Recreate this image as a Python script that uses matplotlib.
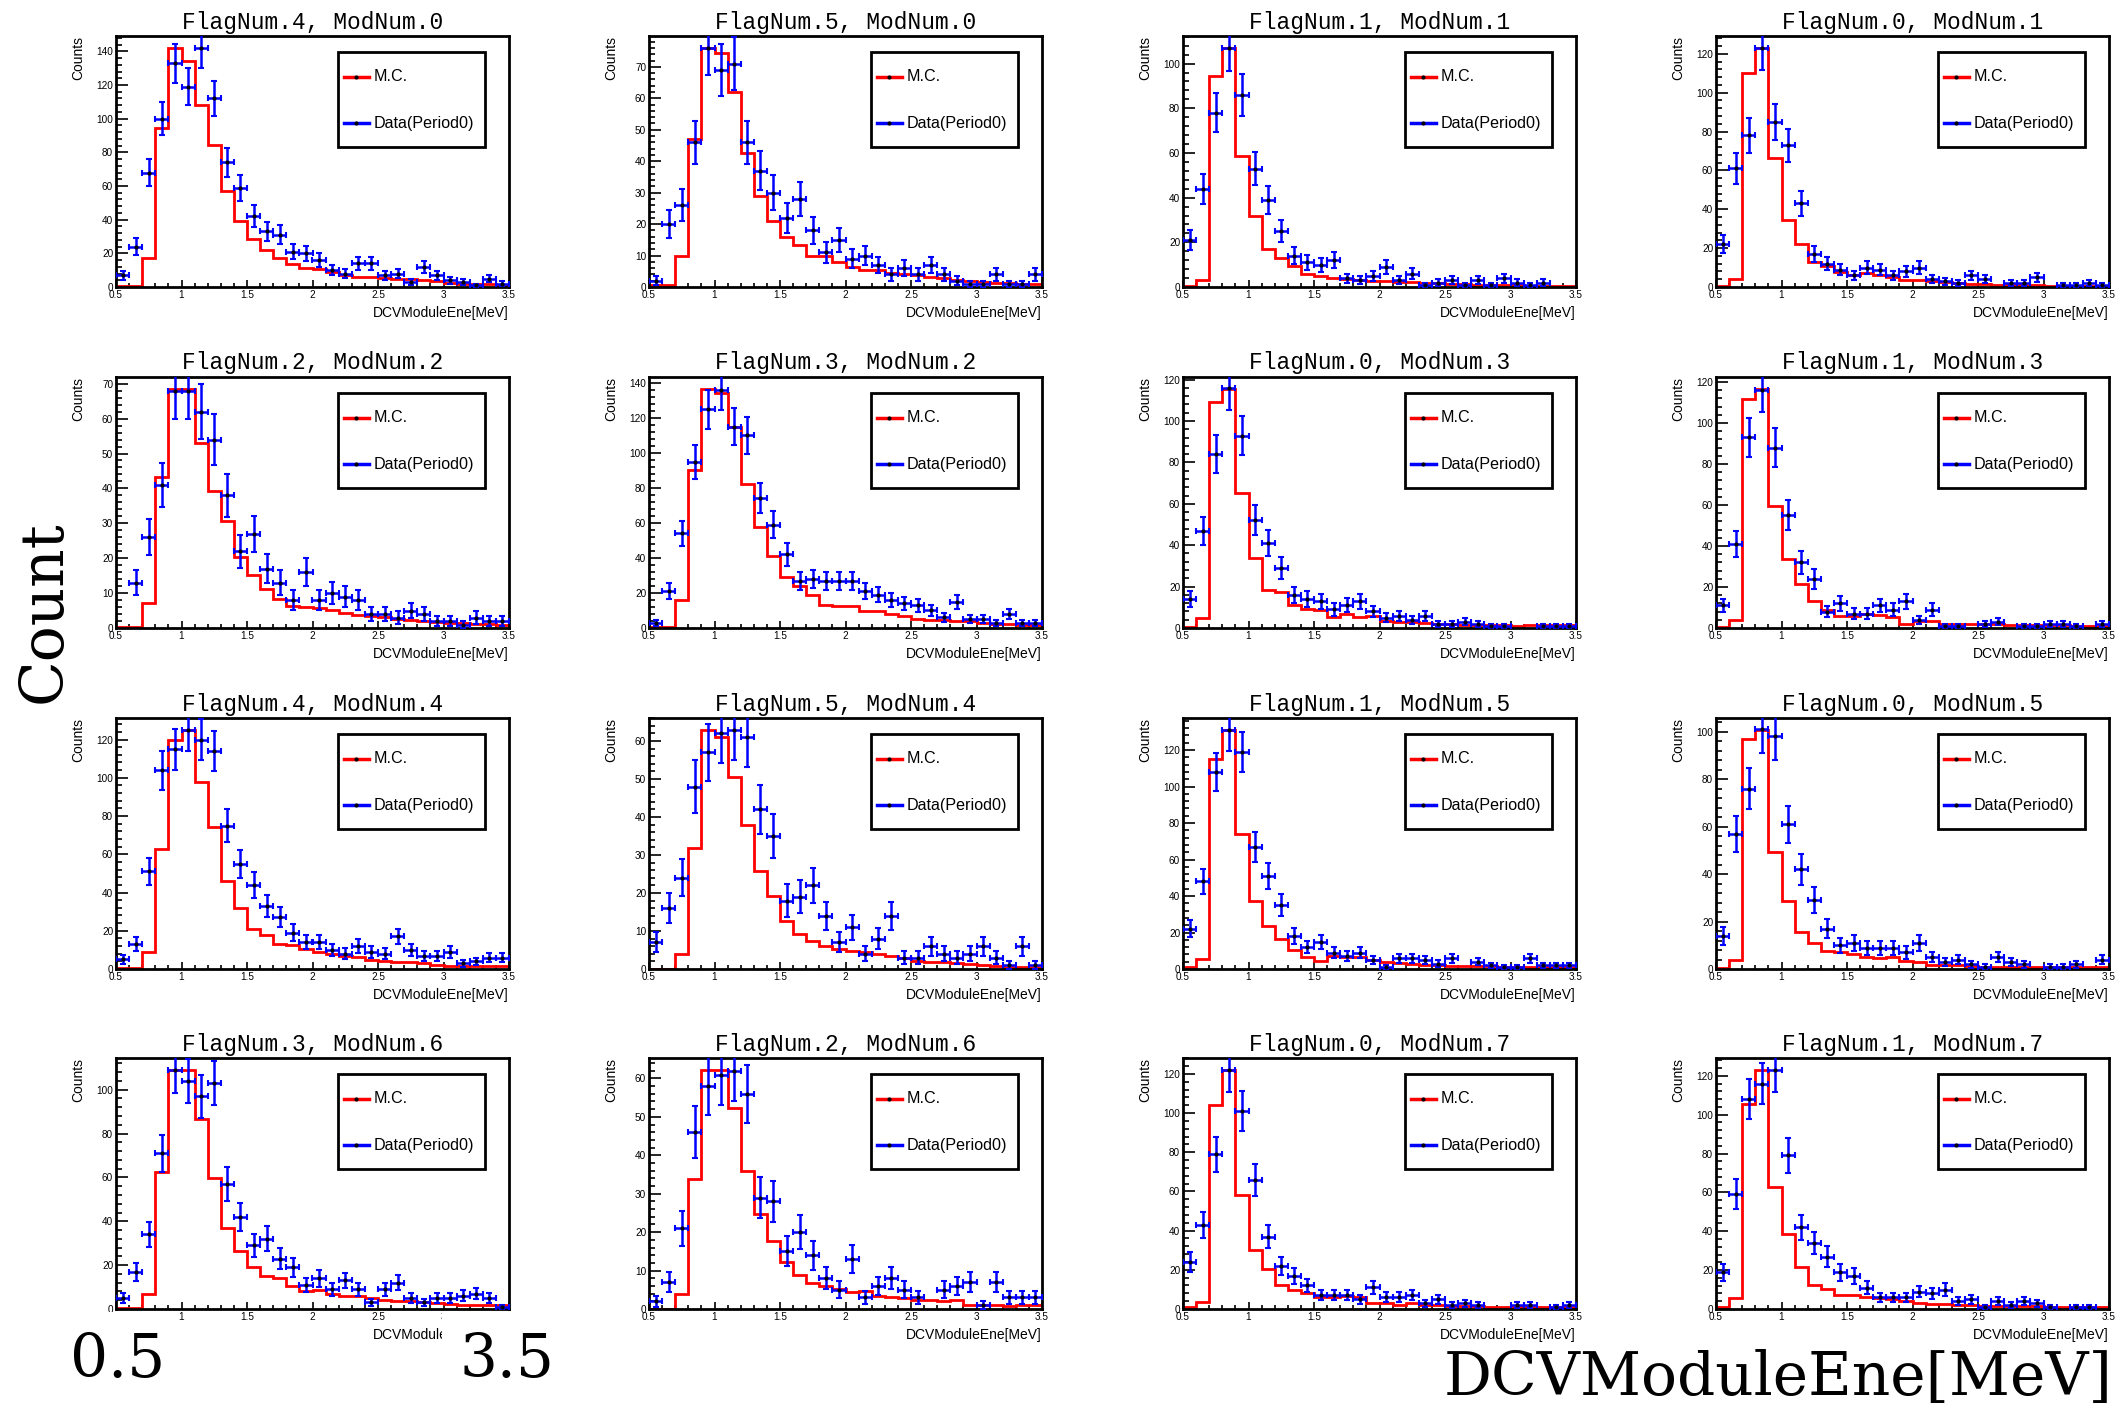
import numpy as np
import matplotlib
matplotlib.use('Agg')
import matplotlib.pyplot as plt
from matplotlib.ticker import MultipleLocator, FormatStrFormatter
from matplotlib.patches import Rectangle

plt.rcParams['font.family'] = ['Liberation Sans', 'DejaVu Sans']

# binning : 0.5 ~ 3.5 MeV, 30 bins
edges = np.linspace(0.5, 3.5, 31)
centers = (edges[:-1] + edges[1:]) / 2

# [1] M.C. (red) / Data(Period0) (blue) per panel
mc_4_0 = [0.3, 0.3, 17, 94.4, 142, 134, 108, 84.5, 57, 39, 28.5, 22, 17, 13.5, 11, 10.5, 9, 7, 6, 6, 5.5, 5, 4.5, 4, 3.5, 2.5, 2, 1.5, 1.5, 1]
data_4_0 = [7, 24, 68, 100, 133, 119, 142, 112, 74, 59, 42, 33, 31, 21, 20, 16, 10, 8, 14, 14, 7, 8, 3, 12, 7, 4, 3, 1, 5, 2]

mc_5_0 = [0.5, 0.5, 9.7, 47, 76, 74.5, 62, 42.5, 29, 21, 16, 13.4, 10, 9.7, 8, 6.5, 5.5, 5.3, 4.5, 4.2, 3.9, 3.2, 2.8, 2.1, 1.8, 1.6, 1.4, 1.3, 1, 1]
data_5_0 = [2, 20, 26, 46, 76, 69, 71, 46, 37, 30, 22, 28, 18, 11, 15, 9, 10, 7, 4, 6, 4, 7, 4, 2, 1, 1, 4, 1, 1, 4]

mc_1_1 = [0.6, 3, 94.5, 107, 58.5, 32, 17, 13, 9.3, 6, 5, 4, 3.6, 3.3, 2.8, 2.8, 2.4, 2.1, 1.8, 1.8, 1.5, 1.3, 1, 1, 1, 0.8, 0.6, 0.6, 0.6, 0.6]
data_1_1 = [21, 44, 78, 107, 86, 53, 39, 25, 14, 11, 10, 12, 4, 3, 5, 9, 3, 6, 1, 2, 3, 1, 3, 1, 4, 2, 1, 2, 0, 0]

mc_0_1 = [0.7, 4, 110, 123, 66.6, 34.4, 22, 13, 10.7, 7.6, 6.4, 7, 6, 5.2, 3.8, 3.8, 3, 2.4, 2, 1.7, 1.5, 1.2, 1, 0.9, 0.9, 0.7, 0.7, 0.7, 0.7, 0.7]
data_0_1 = [22, 61, 78, 123, 85, 73, 43, 17, 12, 9, 6, 10, 9, 6, 8, 10, 4, 3, 2, 6, 4, 0, 2, 2, 5, 0, 1, 1, 2, 1]

mc_2_2 = [0.4, 0.4, 7.2, 43.3, 68.5, 68.5, 53, 39.3, 30.7, 20.4, 15.3, 11.3, 8.4, 6.2, 5.9, 5.6, 5.1, 4.3, 3.8, 3.5, 3.1, 2.7, 2.4, 2.1, 1.7, 1.4, 1.4, 1.2, 1.1, 1]
data_2_2 = [0, 13, 26, 41, 68, 68, 62, 54, 38, 22, 27, 17, 13, 8, 16, 8, 10, 9, 8, 4, 4, 3, 5, 4, 2, 2, 1, 3, 2, 2]

mc_3_2 = [0.7, 0.7, 16, 90, 136.5, 134, 115, 82, 57.4, 41, 29, 23.8, 19, 13.3, 12.7, 12.4, 9.9, 9.5, 8, 6.7, 5.1, 4.4, 4.4, 4.2, 3.8, 2.9, 2.5, 2.3, 1.9, 1.9]
data_3_2 = [3, 21, 54, 95, 125, 136, 115, 110, 74, 59, 42, 27, 28, 27, 27, 27, 21, 19, 16, 14, 13, 10, 6, 15, 5, 5, 3, 8, 3, 3]

mc_0_3 = [0.6, 5, 109, 115.5, 65, 33.7, 18.4, 17.6, 10.9, 9, 8.5, 5.2, 6.8, 5.2, 5.7, 3.3, 2.9, 2.9, 2.4, 2.1, 2, 1.6, 1.6, 1.3, 1.3, 1, 1.6, 1.6, 1.3, 1.3]
data_0_3 = [14, 47, 84, 116, 93, 52, 41, 29, 16, 14, 13, 9, 11, 13, 8, 5, 6, 4, 6, 2, 2, 3, 2, 1, 1, 0, 0, 1, 1, 1]

mc_1_3 = [0.6, 4, 111.7, 116.6, 59.7, 33.7, 21.5, 13, 9, 5.7, 6, 6.8, 6.5, 5.2, 2.1, 3.3, 3.3, 2.1, 2.1, 2.1, 2, 2, 1.6, 1.3, 1.3, 1.3, 1.3, 1, 1, 1]
data_1_3 = [11, 41, 93, 116, 88, 55, 32, 24, 8, 12, 7, 7, 11, 9, 13, 4, 9, 1, 1, 0, 2, 3, 0, 1, 1, 2, 2, 1, 0, 2]

mc_4_4 = [0.5, 0.5, 8.8, 63, 120, 125, 98, 74.4, 46, 31.9, 21, 18, 13, 12.3, 10.5, 8.8, 7.9, 7, 6.1, 4.7, 4.4, 3.9, 3.5, 3, 2.3, 1.8, 1.8, 1.8, 1.8, 1.8]
data_4_4 = [5, 13, 51, 104, 115, 125, 120, 114, 75, 55, 44, 33, 27, 19, 14, 14, 10, 8, 12, 9, 8, 17, 10, 7, 7, 9, 3, 4, 6, 6]

mc_5_4 = [0, 0, 4, 31.8, 62.9, 61.1, 50.6, 37.8, 25.9, 19.3, 12.6, 9.1, 7.3, 6, 5.3, 4.8, 4.4, 4, 3.3, 2.8, 2.2, 1.9, 1.8, 1.5, 1.3, 1.1, 0.9, 0.6, 0.6, 0.6]
data_5_4 = [7, 16, 24, 48, 57, 62, 63, 61, 42, 35, 18, 19, 22, 14, 7, 11, 4, 8, 14, 3, 3, 6, 4, 3, 4, 6, 3, 1, 6, 1]

mc_1_5 = [0.9, 5.5, 115, 131, 73.8, 37, 23.4, 16.5, 10.4, 6.8, 4.6, 7.3, 6.8, 6.4, 4.9, 3.7, 3.1, 2.7, 2.4, 2.2, 1.8, 1.8, 1.8, 1.5, 1.3, 0.9, 0.9, 0.9, 0.9, 0.9]
data_1_5 = [22, 48, 108, 131, 119, 67, 51, 35, 18, 12, 15, 9, 7, 9, 5, 1, 6, 6, 5, 3, 6, 0, 4, 2, 1, 1, 6, 2, 2, 2]

mc_0_5 = [0.4, 3.8, 96.8, 100.7, 49.4, 28.7, 15.5, 11, 7.5, 7, 6.4, 5.2, 4.7, 4.9, 3.5, 3.1, 1.8, 1.8, 1.7, 1.4, 1, 1, 1, 1, 0.7, 0.7, 0.7, 0.7, 0.7, 0.7]
data_0_5 = [14, 57, 76, 101, 98, 61, 42, 29, 17, 10, 11, 9, 9, 9, 7, 11, 5, 3, 4, 2, 1, 5, 3, 2, 0, 1, 1, 2, 0, 4]

mc_3_6 = [0.3, 0.3, 7, 62.5, 109, 109, 86.8, 59.7, 36.9, 26.3, 19.1, 14.9, 14.1, 10.3, 8, 8.8, 7, 6.1, 5.8, 5, 4, 3.8, 3.5, 3, 2.7, 2.4, 2, 2, 1.7, 1.7]
data_3_6 = [5, 17, 34, 71, 109, 104, 97, 103, 57, 42, 29, 32, 23, 19, 11, 14, 9, 13, 9, 3, 9, 12, 5, 3, 5, 5, 6, 7, 5, 1]

mc_2_6 = [0, 0, 4, 33.8, 62.2, 62.2, 52.2, 36, 24.7, 17.8, 12.2, 8.9, 6.8, 5.9, 5.2, 4.3, 4.8, 3.3, 3, 2.9, 2.3, 2.3, 2, 2.4, 1.1, 1.1, 1, 0.9, 1.1, 1.1]
data_2_6 = [2, 7, 21, 46, 58, 61, 62, 56, 29, 28, 15, 20, 14, 8, 5, 13, 3, 6, 8, 5, 3, 0, 5, 6, 7, 1, 7, 3, 3, 3]

mc_0_7 = [0.9, 3.4, 104, 122, 58, 30.3, 20.2, 12.3, 9.7, 8, 6.3, 6.3, 6.8, 6.3, 2.9, 2.9, 2, 2.9, 2, 2.2, 1.7, 1.4, 1.4, 1.2, 0.9, 0.9, 0.9, 0.9, 0.9, 0.9]
data_0_7 = [24, 43, 79, 122, 101, 66, 37, 22, 17, 12, 7, 7, 7, 5, 11, 6, 6, 7, 3, 5, 2, 3, 2, 0, 0, 2, 2, 0, 1, 2]

mc_1_7 = [0.9, 5.7, 105.5, 123, 63, 38.6, 21.4, 12.5, 10.3, 7.4, 7.4, 6.2, 5.7, 5.1, 4.3, 3.1, 2.7, 2.7, 2.2, 2.2, 1.7, 1.7, 1.4, 1.4, 1.4, 1, 1, 1, 1, 1]
data_1_7 = [19, 59, 108, 116, 123, 79, 42, 34, 27, 19, 17, 11, 6, 6, 6, 9, 8, 10, 4, 5, 1, 4, 2, 4, 3, 1, 0, 1, 1, 0]

titles = ['FlagNum.4, ModNum.0', 'FlagNum.5, ModNum.0', 'FlagNum.1, ModNum.1', 'FlagNum.0, ModNum.1',
          'FlagNum.2, ModNum.2', 'FlagNum.3, ModNum.2', 'FlagNum.0, ModNum.3', 'FlagNum.1, ModNum.3',
          'FlagNum.4, ModNum.4', 'FlagNum.5, ModNum.4', 'FlagNum.1, ModNum.5', 'FlagNum.0, ModNum.5',
          'FlagNum.3, ModNum.6', 'FlagNum.2, ModNum.6', 'FlagNum.0, ModNum.7', 'FlagNum.1, ModNum.7']
mc_list = [mc_4_0, mc_5_0, mc_1_1, mc_0_1, mc_2_2, mc_3_2, mc_0_3, mc_1_3,
           mc_4_4, mc_5_4, mc_1_5, mc_0_5, mc_3_6, mc_2_6, mc_0_7, mc_1_7]
data_list = [data_4_0, data_5_0, data_1_1, data_0_1, data_2_2, data_3_2, data_0_3, data_1_3,
             data_4_4, data_5_4, data_1_5, data_0_5, data_3_6, data_2_6, data_0_7, data_1_7]

# [2] canvas : 4 x 4 pads (pixel layout)
W, H = 2124, 1409
fig = plt.figure(figsize=(W / 100, H / 100), dpi=100)
col_x = [116, 649, 1183, 1716]
row_y = [36, 377, 718, 1058]
aw, ah = 393, 251

for k in range(16):
    r, c = divmod(k, 4)
    ax = fig.add_axes([col_x[c] / W, 1 - (row_y[r] + ah) / H, aw / W, ah / H])
    mc = np.array(mc_list[k], dtype=float)
    dat = np.array(data_list[k], dtype=float)

    # M.C. histogram
    ax.stairs(mc, edges, color='red', lw=2, baseline=0, zorder=2)
    # data points (empty bins are not drawn)
    m = dat > 0
    ax.errorbar(centers[m], dat[m], xerr=0.05, yerr=np.sqrt(dat[m]), fmt='o', ms=2,
                mfc='black', mec='black', ecolor='blue', elinewidth=1.8,
                capsize=2.5, capthick=1.5, zorder=3)

    ax.set_xlim(0.5, 3.5)
    ax.set_ylim(0, 1.05 * mc.max())
    ystep = 10 if mc.max() * 1.05 < 100 else 20
    ax.yaxis.set_major_locator(MultipleLocator(ystep))
    ax.yaxis.set_minor_locator(MultipleLocator(ystep / 5))
    ax.xaxis.set_major_locator(MultipleLocator(0.5))
    ax.xaxis.set_minor_locator(MultipleLocator(0.1))
    ax.xaxis.set_major_formatter(FormatStrFormatter('%g'))
    ax.tick_params(which='both', direction='in', top=False, right=False, width=1.2, labelsize=7.2)
    ax.tick_params(axis='y', which='major', length=8.6, pad=2)
    ax.tick_params(axis='y', which='minor', length=4.3)
    ax.tick_params(axis='x', which='major', length=5.4, pad=2)
    ax.tick_params(axis='x', which='minor', length=2.7)
    for sp in ax.spines.values():
        sp.set_linewidth(2)

    ax.text(0.5, 1 + 14 / ah, titles[k], ha='center', va='center', transform=ax.transAxes,
            family='Liberation Mono', fontsize=16.5)
    ax.text(-38 / aw, 1.0, 'Counts', rotation=90, ha='center', va='top',
            transform=ax.transAxes, fontsize=10)
    xl = ax.text(1.0, -26 / ah, 'DCVModuleEne[MeV]', ha='right', va='center',
                 transform=ax.transAxes, fontsize=10)
    if k == 12:
        # bottom-left pad : label is cut by the big "3.5" -> only the visible part
        bb = xl.get_window_extent(fig.canvas.get_renderer())
        x0 = ax.transAxes.inverted().transform((bb.x0, bb.y0))[0]
        xl.set_text('DCVModule')
        xl.set_x(x0)
        xl.set_ha('left')

    # legend box (ROOT style)
    ax.add_patch(Rectangle((0.564, 0.558), 0.375, 0.378, transform=ax.transAxes,
                           facecolor='white', edgecolor='black', lw=2, zorder=5))
    for yy, col, lab in [(0.837, 'red', 'M.C.'), (0.653, 'blue', 'Data(Period0)')]:
        ax.plot([0.579, 0.643], [yy, yy], color=col, lw=2.5, transform=ax.transAxes, zorder=6)
        ax.plot([0.611], [yy], 'o', ms=2, color='black', transform=ax.transAxes, zorder=7)
        ax.text(0.656, yy, lab, ha='left', va='center', transform=ax.transAxes,
                fontsize=11.6, zorder=7)

# [3] big labels on the canvas
fig.patches.append(Rectangle((98 / W, 1 - 1405 / H), 72 / W, 93 / H, transform=fig.transFigure,
                             facecolor='white', edgecolor='none', zorder=1))
fig.patches.append(Rectangle((442 / W, 1 - 1405 / H), 135 / W, 93 / H, transform=fig.transFigure,
                             facecolor='white', edgecolor='none', zorder=1))
big = dict(family='DejaVu Serif', fontsize=43)
fig.text(118 / W, 1 - 1360 / H, '0.5', ha='center', va='center', **big)
fig.text(507 / W, 1 - 1360 / H, '3.5', ha='center', va='center', **big)
fig.text(2113 / W, 1 - 1395 / H, 'DCVModuleEne[MeV]', ha='right', va='baseline', **big)
fig.text(44 / W, 1 - 612 / H, 'Count', rotation=90, ha='center', va='center', **big)

fig.savefig('out.png', dpi=100)
